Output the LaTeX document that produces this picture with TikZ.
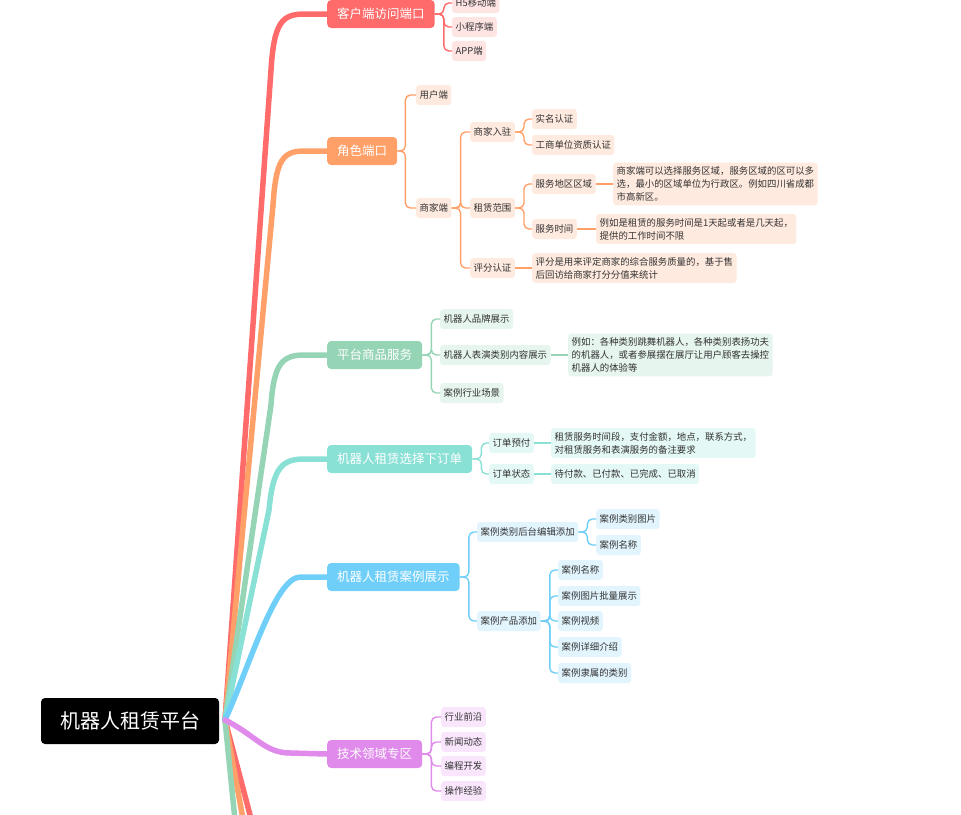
\documentclass[tikz,border=0pt]{standalone}
\usepackage{fontspec}
\newfontfamily\cjk{Noto Sans CJK SC}

\definecolor{redM}{HTML}{FF6B6B}
\definecolor{redL}{HTML}{FFE4E4}
\definecolor{orgM}{HTML}{FFA069}
\definecolor{orgL}{HTML}{FFEADF}
\definecolor{grnM}{HTML}{96D4B6}
\definecolor{grnL}{HTML}{E6F5EE}
\definecolor{tealM}{HTML}{89E0D5}
\definecolor{tealL}{HTML}{E4F8F5}
\definecolor{bluM}{HTML}{70CFF8}
\definecolor{bluL}{HTML}{E2F4FD}
\definecolor{vioM}{HTML}{E08BEB}
\definecolor{vioL}{HTML}{F9E5FC}

\tikzset{
  rootbox/.style={fill=black, text=white, rounded corners=4pt, minimum width=178pt,
    minimum height=46pt, font=\cjk\fontsize{20}{24}\selectfont},
  topic/.style={fill=#1, text=white, rounded corners=4pt, minimum height=28pt,
    inner xsep=10pt, anchor=west, font=\cjk\fontsize{12.5}{15}\selectfont},
  leaf/.style={fill=#1, text=black!80, rounded corners=3pt, minimum height=20pt,
    inner xsep=3.5pt, anchor=west, font=\cjk\fontsize{9.4}{13}\selectfont},
  note/.style={leaf=#1, align=left, inner ysep=4pt},
  branch/.style={draw=#1, line width=5.5pt, line cap=round},
  link/.style={draw=#1, line width=1.4pt, rounded corners=5pt},
}

\begin{document}
\begin{tikzpicture}[x=1pt, y=-1pt]
\useasboundingbox (0,0) rectangle (961,814);
\clip (0,0) rectangle (961,814);

% Root
\node[rootbox] (root) at (130,721) {机器人租赁平台};
\coordinate (hub) at (225,720);

% Main topics
\node[topic=redM] (k1) at (327,14) {客户端访问端口};
\node[topic=orgM] (k2) at (327,151) {角色端口};
\node[topic=grnM] (k3) at (327,355) {平台商品服务};
\node[topic=tealM] (k4) at (327,459) {机器人租赁选择下订单};
\node[topic=bluM] (k5) at (327,577) {机器人租赁案例展示};
\node[topic=vioM] (k6) at (327,754) {技术领域专区};

% Branches (the last three run off the bottom)
\draw[branch=redM] (hub) -- (254,830);
\draw[branch=orgM] (hub) -- (245,830);
\draw[branch=grnM] (hub) -- (236,830);
\draw[branch=redM] (hub) -- (271,70) .. controls (274,22) and (282,14) .. (305,14) -- (k1.west);
\draw[branch=orgM] (hub) -- (273,205) .. controls (276,159) and (283,151) .. (305,151) -- (k2.west);
\draw[branch=grnM] (hub) -- (271,405) .. controls (274,362) and (283,355) .. (305,355) -- (k3.west);
\draw[branch=tealM] (hub) -- (269,510) .. controls (273,466) and (283,459) .. (305,459) -- (k4.west);
\draw[branch=bluM] (hub) .. controls (250,665) and (275,578) .. (300,577) -- (k5.west);
\draw[branch=vioM] (hub) .. controls (255,735) and (265,753) .. (290,753) -- (k6.west);

% Client ports
\node[leaf=redL] (h5) at (452,3) {H5移动端};
\node[leaf=redL] (mini) at (452,27) {小程序端};
\node[leaf=redL] (app) at (452,51) {APP端};
\foreach \c in {h5,mini,app}
  \draw[link=redM] (k1.east) -- ++(9,0) |- (\c.west);

% Role ports
\node[leaf=orgL] (user) at (416,95) {用户端};
\node[leaf=orgL] (shop) at (416,208) {商家端};
\node[leaf=orgL] (join) at (470,132) {商家入驻};
\node[leaf=orgL] (range) at (470,208) {租赁范围};
\node[leaf=orgL] (rate) at (470,268) {评分认证};
\node[leaf=orgL] (real) at (532,119) {实名认证};
\node[leaf=orgL] (lic) at (532,145) {工商单位资质认证};
\node[leaf=orgL] (area) at (532,184) {服务地区区域};
\node[leaf=orgL] (time) at (532,229) {服务时间};
\node[note=orgL] (areaN) at (613,184) {商家端可以选择服务区域，服务区域的区可以多\\选，最小的区域单位为行政区。例如四川省成都\\市高新区。};
\node[note=orgL] (timeN) at (596,229) {例如是租赁的服务时间是1天起或者是几天起，\\提供的工作时间不限};
\node[note=orgL] (rateN) at (532,268) {评分是用来评定商家的综合服务质量的，基于售\\后回访给商家打分分值来统计};
\foreach \c in {user,shop}
  \draw[link=orgM] (k2.east) -- ++(8,0) |- (\c.west);
\foreach \c in {join,range,rate}
  \draw[link=orgM] (shop.east) -- ++(9,0) |- (\c.west);
\foreach \c in {real,lic}
  \draw[link=orgM] (join.east) -- ++(9,0) |- (\c.west);
\foreach \c in {area,time}
  \draw[link=orgM] (range.east) -- ++(9,0) |- (\c.west);
\draw[link=orgM] (area.east) -- (areaN.west);
\draw[link=orgM] (time.east) -- (timeN.west);
\draw[link=orgM] (rate.east) -- (rateN.west);

% Goods service
\node[leaf=grnL] (brand) at (440,319) {机器人品牌展示};
\node[leaf=grnL] (show) at (440,355) {机器人表演类别内容展示};
\node[leaf=grnL] (scene) at (440,393) {案例行业场景};
\node[note=grnL] (showN) at (568,355) {例如：各种类别跳舞机器人，各种类别表扬功夫\\的机器人，或者参展摆在展厅让用户顾客去操控\\机器人的体验等};
\foreach \c in {brand,show,scene}
  \draw[link=grnM] (k3.east) -- ++(9,0) |- (\c.west);
\draw[link=grnM] (show.east) -- (showN.west);

% Orders
\node[leaf=tealL] (pay) at (489,443) {订单预付};
\node[leaf=tealL] (state) at (489,474) {订单状态};
\node[note=tealL] (payN) at (551,443) {租赁服务时间段，支付金额，地点，联系方式，\\对租赁服务和表演服务的备注要求};
\node[leaf=tealL] (stateN) at (551,474) {待付款、已付款、已完成、已取消};
\foreach \c in {pay,state}
  \draw[link=tealM] (k4.east) -- ++(9,0) |- (\c.west);
\draw[link=tealM] (pay.east) -- (payN.west);
\draw[link=tealM] (state.east) -- (stateN.west);

% Cases
\node[leaf=bluL] (edit) at (477,532) {案例类别后台编辑添加};
\node[leaf=bluL] (prod) at (477,621) {案例产品添加};
\node[leaf=bluL] (pic) at (596,519) {案例类别图片};
\node[leaf=bluL] (name) at (596,545) {案例名称};
\node[leaf=bluL] (pname) at (558,570) {案例名称};
\node[leaf=bluL] (batch) at (558,596) {案例图片批量展示};
\node[leaf=bluL] (video) at (558,621) {案例视频};
\node[leaf=bluL] (intro) at (558,647) {案例详细介绍};
\node[leaf=bluL] (cat) at (558,673) {案例隶属的类别};
\foreach \c in {edit,prod}
  \draw[link=bluM] (k5.east) -- ++(9,0) |- (\c.west);
\foreach \c in {pic,name}
  \draw[link=bluM] (edit.east) -- ++(9,0) |- (\c.west);
\foreach \c in {pname,batch,video,intro,cat}
  \draw[link=bluM] (prod.east) -- ++(9,0) |- (\c.west);

% Tech zone
\node[leaf=vioL] (front) at (441,717) {行业前沿};
\node[leaf=vioL] (news) at (441,742) {新闻动态};
\node[leaf=vioL] (code) at (441,766) {编程开发};
\node[leaf=vioL] (exp) at (441,791) {操作经验};
\foreach \c in {front,news,code,exp}
  \draw[link=vioM] (k6.east) -- ++(9,0) |- (\c.west);

\end{tikzpicture}
\end{document}
